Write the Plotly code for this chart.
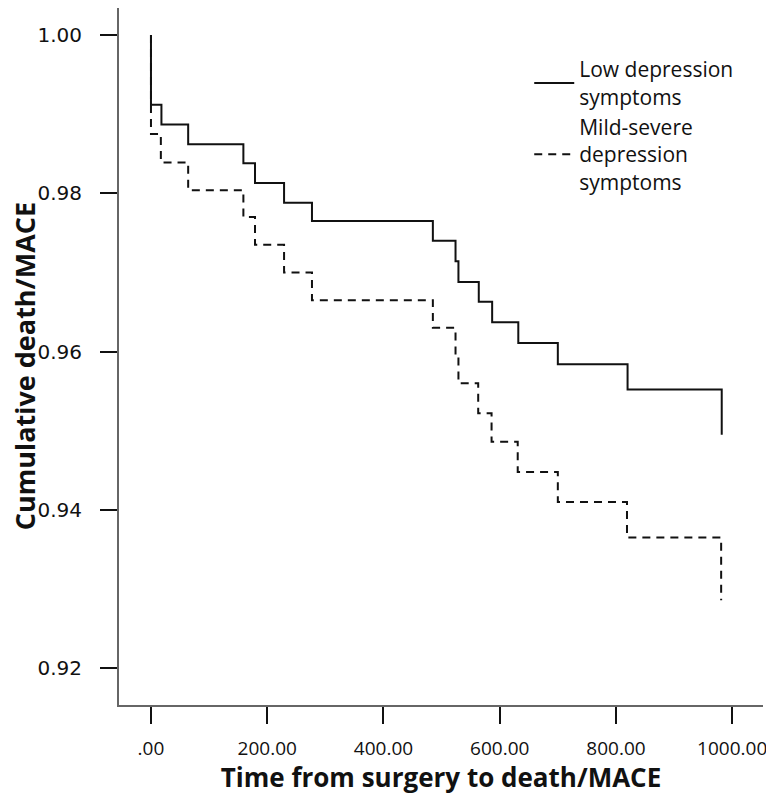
import plotly.graph_objects as go

# Kaplan-Meier step data (time in days, cumulative survival free of death/MACE)
time_low = [0, 0, 18, 64, 159, 179, 229, 277, 485, 524, 529, 564, 587, 632, 700, 820, 982]
surv_low = [1.0, 0.9912, 0.9887, 0.9862, 0.9838, 0.9813, 0.9788, 0.9765, 0.9740, 0.9714,
            0.9688, 0.9663, 0.9637, 0.9611, 0.9584, 0.9552, 0.9495]

time_mild = [0, 0, 17, 64, 159, 179, 229, 277, 485, 524, 529, 563, 586, 631, 700, 819, 981]
surv_mild = [1.0, 0.9875, 0.9839, 0.9804, 0.9770, 0.9735, 0.9700, 0.9665, 0.9630, 0.9595,
             0.9560, 0.9522, 0.9486, 0.9448, 0.9410, 0.9365, 0.9286]

name_low = "Low depression<br>symptoms"
name_mild = "Mild-severe<br>depression<br>symptoms"

x_ticks = [0, 200, 400, 600, 800, 1000]
x_ticktext = [".00", "200.00", "400.00", "600.00", "800.00", "1000.00"]
y_ticks = [0.92, 0.94, 0.96, 0.98, 1.00]
y_ticktext = ["0.92", "0.94", "0.96", "0.98", "1.00"]

x_title = "Time from surgery to death/MACE"
y_title = "Cumulative death/MACE"

fig = go.Figure()
fig.add_trace(go.Scatter(x=time_low, y=surv_low, mode="lines", name=name_low,
                         line=dict(shape="hv", color="#111111", width=2)))
fig.add_trace(go.Scatter(x=time_mild, y=surv_mild, mode="lines", name=name_mild,
                         line=dict(shape="hv", color="#111111", width=2, dash="8px,6px")))

fig.add_annotation(text="<b>" + y_title + "</b>", xref="paper", yref="paper",
                   x=0, y=0.486, xanchor="center", yanchor="middle", xshift=-95,
                   textangle=-90, showarrow=False, borderpad=0,
                   font=dict(family="Open Sans", size=27, color="#111111"))

fig.update_layout(
    width=766, height=787,
    margin=dict(l=111, r=11, t=0, b=90),
    plot_bgcolor="white", paper_bgcolor="white",
    showlegend=True,
    legend=dict(x=0.637, y=0.941, xanchor="left", yanchor="top",
                font=dict(family="Open Sans", size=21, color="#111111"),
                bgcolor="rgba(0,0,0,0)", itemwidth=40, valign="middle",
                tracegroupgap=0),
    xaxis=dict(range=[-55, 1053], tickvals=x_ticks, ticktext=x_ticktext,
               showgrid=False, zeroline=False, showline=True, linecolor="#666666", linewidth=2,
               ticks="outside", ticklen=17, tickwidth=2, tickcolor="#111111",
               tickfont=dict(family="Open Sans", size=19, color="#111111"),
               ticklabelstandoff=8, ticklabeloverflow="allow",
               title=dict(text="<b>" + x_title + "</b>",
                          font=dict(family="Open Sans", size=26, color="#111111"),
                          standoff=12),
               automargin=False),
    yaxis=dict(range=[0.91535, 1.00341], tickvals=y_ticks, ticktext=y_ticktext,
               showgrid=False, zeroline=False, showline=True, linecolor="#666666", linewidth=2,
               ticks="outside", ticklen=17, tickwidth=2, tickcolor="#111111",
               tickfont=dict(family="DejaVu Sans", size=20, color="#111111"),
               ticklabelstandoff=14,
               automargin=False),
)

fig.write_html("out.html")
